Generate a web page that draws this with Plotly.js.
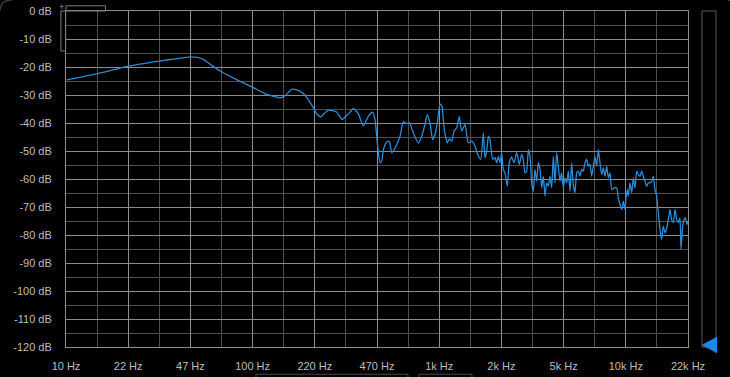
<!DOCTYPE html>
<html>
<head>
<meta charset="utf-8">
<script src="https://cdn.plot.ly/plotly-3.0.1.min.js"></script>
<style>
html,body{margin:0;padding:0;background:#000;}
#chart{width:730px;height:377px;}
</style>
</head>
<body>
<div id="chart"></div>
<script>
// Frequency (Hz) and level (dB)
const freqHz = [
  10.1, 14.8, 21.6, 31.6, 38.4, 46.4, 50.3, 54.4, 60.6, 68.0, 82.1, 99.6,
  119, 140, 147, 156, 162, 173, 187, 198, 212, 221, 232, 243, 254, 268, 282, 292, 302, 317, 333,
  346, 368, 392, 417, 440, 453, 466, 482, 492, 502, 523, 540, 557, 580, 617, 642, 670, 692,
  726, 773, 806, 839, 863, 892, 922, 950, 977, 1010, 1035, 1061, 1105, 1133, 1167, 1200,
  1241, 1281, 1320, 1375, 1432, 1494, 1556, 1620, 1669, 1724, 1760, 1797, 1834, 1870,
  1935, 1991, 2033, 2074, 2118, 2162, 2205, 2252, 2317, 2374, 2445, 2516, 2602, 2687,
  2766, 2822, 2882, 2943, 3003, 3067, 3130, 3194, 3261, 3330, 3397, 3469, 3542, 3614,
  3690, 3767, 3842, 3924, 4006, 4088, 4174, 4262, 4348, 4437, 4527, 4626, 4725, 4823,
  4921, 5023, 5128, 5232, 5342, 5454, 5566, 5682, 5801, 5920, 6044, 6171, 6296, 6428,
  6562, 6697, 6838, 6982, 7122, 7273, 7427, 7577, 7736, 7900, 8061, 8231, 8404, 8640,
  8939, 9116, 9307, 9511, 9702, 9899, 10025, 10190, 10310, 10530, 10760, 10970, 11200,
  11440, 11670, 11910, 12170, 12410, 12670, 12940, 13200, 13480, 13770, 14030, 14340,
  14630, 14940, 15250, 15570, 15880, 16220, 16570, 16900, 17250, 17610, 17970, 18350,
  18740, 19110, 19510, 19760, 20180, 20510, 20850, 21230, 21480
];
const levelDb = [
  -24.6, -22.4, -19.7, -17.9, -17.1, -16.4, -16.6, -17.3, -19.5, -21.7, -24.5, -27.2,
  -29.8, -31.0, -30.6, -29.0, -28.0, -28.2, -29.5, -31.5, -34.6, -36.8, -37.8, -36.5, -35.4, -35.6, -36.1, -37.5, -38.8, -37.5, -36.1,
  -34.8, -36.6, -41.1, -37.6, -36.1, -38.8, -47.1, -54.2, -53.6, -49.5, -46.8, -46.5, -50.6, -48.9, -44.7, -39.6, -40.3, -39.9,
  -43.5, -47.1, -44.7, -40.5, -37.0, -39.9, -45.9, -44.1, -39.9, -33.2, -34.0, -41.7, -47.1, -45.7, -46.5, -42.9,
  -41.7, -37.6, -42.9, -40.5, -47.1, -46.5, -48.3, -51.8, -53.0, -43.5, -52.4, -50.1, -44.7, -45.9,
  -53.0, -52.4, -54.2, -51.9, -54.2, -50.6, -56.6, -57.8, -62.6, -54.2, -52.1, -54.2, -50.6, -54.8,
  -51.2, -53.0, -57.8, -57.2, -49.5, -51.9, -61.4, -64.4, -56.6, -60.8, -54.2, -56.6, -63.1, -59.0,
  -66.1, -61.4, -62.6, -59.0, -63.1, -51.9, -61.4, -50.6, -55.4, -60.8, -57.8, -63.1, -59.6, -61.4,
  -57.2, -64.4, -54.2, -62.0, -64.9, -57.8, -57.2, -59.0, -56.6, -57.2, -54.2, -53.0, -55.4, -54.8,
  -59.0, -55.4, -51.9, -55.4, -49.5, -54.2, -58.4, -56.0, -59.0, -55.4, -59.6, -57.8, -63.8, -63.2,
  -63.2, -66.7, -69.1, -70.9, -67.9, -70.9, -66.7, -63.8, -66.1, -61.4, -64.9, -59.6, -63.2,
  -57.2, -58.4, -59.0, -57.2, -59.0, -60.8, -62.6, -61.4, -61.4, -60.8, -59.0, -63.8,
  -66.1, -72.1, -78.0, -81.6, -76.8, -79.2, -77.6, -74.5, -70.9, -74.5, -75.6, -70.9,
  -74.5, -75.6, -73.9, -85.2, -77.0, -74.5, -73.9, -76.3, -75.1
];

// Axis ticks
const xTickVals = [10, 21.544, 46.416, 100, 215.44, 464.16, 1000, 2154.4, 4641.6, 10000, 21544];
const xTickText = ['10 Hz', '22 Hz', '47 Hz', '100 Hz', '220 Hz', '470 Hz', '1k Hz', '2k Hz', '5k Hz', '10k Hz', '22k Hz'];
const xMinorVals = [14.678, 31.623, 68.129, 146.78, 316.23, 681.29, 1467.8, 3162.3, 6812.9, 14678];
const yTickVals = [0, -10, -20, -30, -40, -50, -60, -70, -80, -90, -100, -110, -120];
const yTickText = ['0 dB', '-10 dB', '-20 dB', '-30 dB', '-40 dB', '-50 dB', '-60 dB', '-70 dB', '-80 dB', '-90 dB', '-100 dB', '-110 dB', '-120 dB'];

const majorGrid = '#8c8c8c';
const minorGrid = '#4e4e4e';

const trace = {
  x: freqHz,
  y: levelDb,
  type: 'scatter',
  mode: 'lines',
  line: {color: '#2b8bd6', width: 1.3, shape: 'spline', smoothing: 0.5},
  hoverinfo: 'skip'
};

const layout = {
  width: 730,
  height: 377,
  margin: {l: 66, r: 42, t: 11, b: 30, pad: 0},
  paper_bgcolor: '#000000',
  plot_bgcolor: '#000000',
  showlegend: false,
  font: {family: 'Liberation Sans, Arial, sans-serif', size: 11, color: '#bdbdbd'},
  xaxis: {
    type: 'log',
    range: [1, 1 + 10 / 3],
    tickmode: 'array',
    tickvals: xTickVals,
    ticktext: xTickText,
    showgrid: true,
    gridcolor: majorGrid,
    gridwidth: 1,
    zeroline: false,
    showline: true,
    linecolor: majorGrid,
    linewidth: 1,
    mirror: true,
    ticks: '',
    ticklabelstandoff: 9,
    minor: {tickmode: 'array', tickvals: xMinorVals, showgrid: true, gridcolor: minorGrid, gridwidth: 1, ticks: ''},
    fixedrange: true
  },
  yaxis: {
    range: [-120, 0],
    tickmode: 'array',
    tickvals: yTickVals,
    ticktext: yTickText,
    showgrid: true,
    gridcolor: majorGrid,
    gridwidth: 1,
    zeroline: false,
    showline: true,
    linecolor: majorGrid,
    linewidth: 1,
    mirror: true,
    ticks: '',
    ticklabelstandoff: 11,
    minor: {dtick: 5, showgrid: true, gridcolor: minorGrid, gridwidth: 1, ticks: ''},
    fixedrange: true
  },
  shapes: [
    // small scroll boxes at top-left
    {type: 'rect', xref: 'paper', yref: 'paper', x0: 0, x1: 0.0635, y0: 1.0, y1: 1.0155,
     line: {color: '#7a7a7a', width: 1}, fillcolor: 'rgba(0,0,0,0)'},
    {type: 'rect', xref: 'paper', yref: 'paper', x0: -0.0082, x1: -0.0005, y0: 0.881, y1: 1.0,
     line: {color: '#7a7a7a', width: 1}, fillcolor: 'rgba(0,0,0,0)'},
    // level meter at right
    {type: 'rect', xref: 'paper', yref: 'paper', x0: 1.0225, x1: 1.045, y0: 0.0, y1: 1.0,
     line: {color: '#5a5a5a', width: 1}, fillcolor: 'rgba(0,0,0,0)'},
    {type: 'path', xref: 'paper', yref: 'paper',
     path: 'M 1.0225 0.006 L 1.0466 0.030 L 1.0466 -0.018 Z',
     line: {color: '#1a7fe0', width: 0.5}, fillcolor: '#1f86e6'},
    // bottom scroll boxes (cut off)
    {type: 'rect', xref: 'paper', yref: 'paper', x0: 0.3055, x1: 0.5498, y0: -0.081, y1: -0.12,
     line: {color: '#4a4a4a', width: 1}, fillcolor: 'rgba(0,0,0,0)'},
    {type: 'rect', xref: 'paper', yref: 'paper', x0: 0.5675, x1: 0.6527, y0: -0.081, y1: -0.12,
     line: {color: '#4a4a4a', width: 1}, fillcolor: 'rgba(0,0,0,0)'},
    // rounded panel corners
    {type: 'path', xref: 'paper', yref: 'paper',
     path: 'M -0.1061 1.0 Q -0.1061 1.0327 -0.0868 1.0327',
     line: {color: '#3a3a3a', width: 1.5}},
    {type: 'path', xref: 'paper', yref: 'paper',
     path: 'M 1.0643 1.0327 Q 1.0836 1.0327 1.0836 1.0',
     line: {color: '#4a5866', width: 1.5}}
  ],
  annotations: [
    {xref: 'paper', yref: 'paper', x: -0.0065, y: 1.012, text: '+', showarrow: false,
     font: {size: 9, color: '#9a9a9a'}, xanchor: 'center', yanchor: 'middle'}
  ]
};

Plotly.newPlot('chart', [trace], layout, {staticPlot: true, displayModeBar: false});
</script>
</body>
</html>
